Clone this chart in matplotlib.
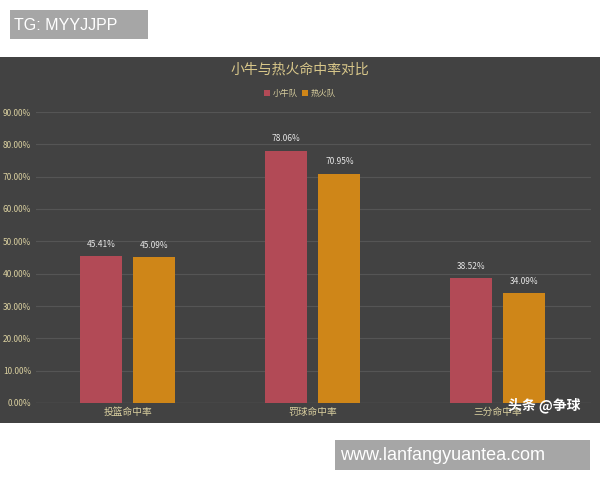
import matplotlib.pyplot as plt
from matplotlib.patches import Rectangle

plt.rcParams['font.family'] = ['Noto Sans CJK SC', 'DejaVu Sans']

categories = ["投篮命中率", "罚球命中率", "三分命中率"]
mavs = [45.41, 78.06, 38.52]
heat = [45.09, 70.95, 34.09]
yticks = [0, 10, 20, 30, 40, 50, 60, 70, 80, 90]

bg = "#424242"
fig = plt.figure(figsize=(6, 4.8), dpi=100)
fig.patch.set_facecolor("white")
# dark chart panel
fig.patches.append(Rectangle((0, 1 - 423 / 480), 1, 366 / 480, transform=fig.transFigure,
                             facecolor=bg, edgecolor="none", zorder=-1))

ax = fig.add_axes([35.5 / 600, 1 - 403 / 480, 555 / 600, 291 / 480])
ax.set_zorder(2)
ax.set_facecolor(bg)
x = range(len(categories))
w = 0.227
ax.bar([i - 0.146 for i in x], mavs, w, color="#b24a56", label="小牛队", zorder=2)
ax.bar([i + 0.143 for i in x], heat, w, color="#cf8618", label="热火队", zorder=2)
for i in x:
    ax.text(i - 0.146, mavs[i] + 2.2, f"{mavs[i]:.2f}%", ha="center", va="bottom", color="#e6e6e6", fontsize=6)
    ax.text(i + 0.143, heat[i] + 2.2, f"{heat[i]:.2f}%", ha="center", va="bottom", color="#e6e6e6", fontsize=6)

ax.set_xlim(-0.5, 2.5)
ax.set_ylim(0, 90)
ax.set_yticks(yticks)
ax.set_yticklabels([f"{v:.2f}%" for v in yticks], color="#d9cf9f", fontsize=6)
ax.set_xticks(list(x))
ax.set_xticklabels(categories, color="#d9cf9f", fontsize=7)
ax.tick_params(length=0, pad=3)
ax.grid(axis="y", color="#555555", linewidth=0.8, zorder=0)
for s in ax.spines.values():
    s.set_visible(False)
ax.axhline(0, color="#5a5a5a", linewidth=1, zorder=1)

fig.text(0.5, 1 - 70 / 480, "小牛与热火命中率对比", ha="center", va="center", color="#d8c78a", fontsize=10)
leg = fig.legend(loc="center", bbox_to_anchor=(0.5, 1 - 93 / 480), ncol=2, frameon=False, fontsize=6,
                 handlelength=0.7, handleheight=0.7, columnspacing=0.5, handletextpad=0.3)
for t in leg.get_texts():
    t.set_color("#d9cf9f")

# watermarks
fig.patches.append(Rectangle((10 / 600, 1 - 39 / 480), 138 / 600, 29 / 480, transform=fig.transFigure,
                             facecolor="#a6a6a6", edgecolor="none", zorder=3))
fig.text(14 / 600, 1 - 25 / 480, "TG: MYYJJPP", color="white", fontsize=11.5, va="center",
         family=["Liberation Sans"], zorder=4)
fig.patches.append(Rectangle((335 / 600, 1 - 470 / 480), 255 / 600, 30 / 480, transform=fig.transFigure,
                             facecolor="#a6a6a6", edgecolor="none", zorder=3))
fig.text(340 / 600, 1 - 455 / 480, "www.lanfangyuantea.com", color="white", fontsize=13, va="center",
         family=["Liberation Sans"], zorder=4)
fig.text(508 / 600, 1 - 405 / 480, "头条 @争球", color="white", fontsize=10, va="center", fontweight="bold", zorder=4)

fig.savefig("out.png", dpi=100, facecolor=fig.get_facecolor())
